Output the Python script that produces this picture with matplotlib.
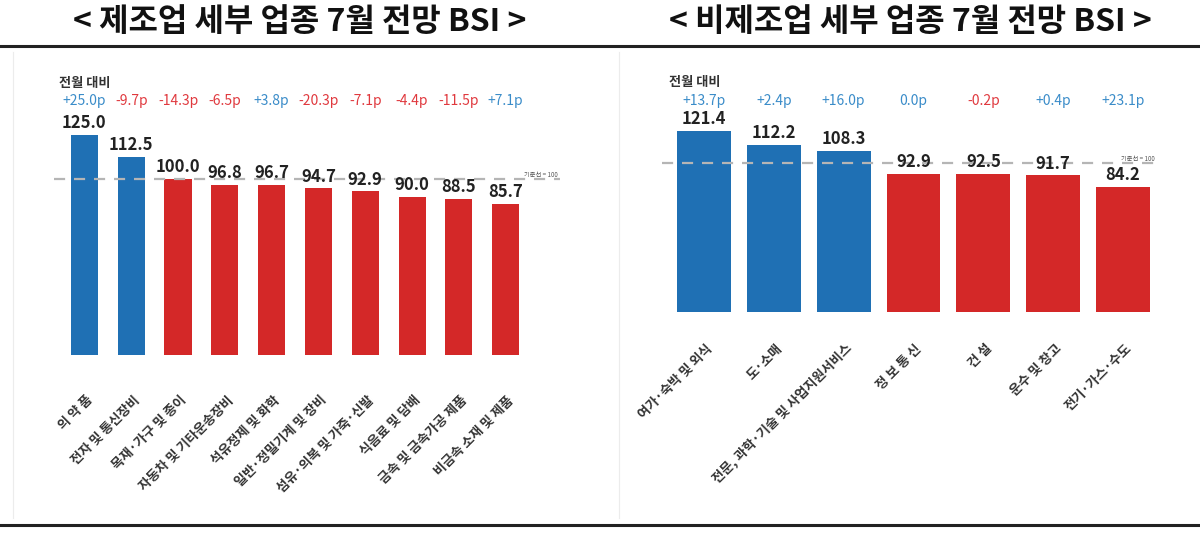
import matplotlib
matplotlib.use("Agg")
from matplotlib import pyplot as plt
from matplotlib.lines import Line2D
from matplotlib.transforms import ScaledTranslation

plt.rcParams['font.family'] = ['Noto Sans CJK KR', 'DejaVu Sans']

## Data ##
mfg_labels = ['의 약 품', '전자 및 통신장비', '목재·가구 및 종이', '자동차 및 기타운송장비',
              '석유정제 및 화학', '일반·정밀기계 및 장비', '섬유·의복 및 가죽·신발',
              '식음료 및 담배', '금속 및 금속가공 제품', '비금속 소재 및 제품']
mfg_values = [125.0, 112.5, 100.0, 96.8, 96.7, 94.7, 92.9, 90.0, 88.5, 85.7]
mfg_change = [25.0, -9.7, -14.3, -6.5, 3.8, -20.3, -7.1, -4.4, -11.5, 7.1]

non_labels = ['여가·숙박 및 외식', '도·소매', '전문, 과학·기술 및 사업지원서비스',
              '정 보 통 신', '건 설', '운수 및 창고', '전기·가스·수도']
non_values = [121.4, 112.2, 108.3, 92.9, 92.5, 91.7, 84.2]
non_change = [13.7, 2.4, 16.0, 0.0, -0.2, 0.4, 23.1]

BLUE = '#1f70b4'
RED = '#d42828'
BLUE_TXT = '#3a8cc9'
RED_TXT = '#e0393e'

W, H = 1200, 535
fig = plt.figure(figsize=(12, 5.35), dpi=100)


def px_axes(left, top, right, bottom):
    return fig.add_axes([left / W, 1 - bottom / H, (right - left) / W, (bottom - top) / H])


# Draws one panel of bars with value and change labels
def plotPanel(ax, labels, values, change, xlim, ylim, pad, width, changeY, headY):
    n = len(values)
    x = list(range(n))
    # only bars above the 100 line are blue
    colors = [BLUE if v > 100 else RED for v in values]
    ax.bar(x, values, width=width, color=colors, zorder=2)
    ax.axhline(100, color='#b5b5b5', lw=1.6, ls=(0, (5, 4)), zorder=3)
    ax.set_xlim(*xlim)
    ax.set_ylim(*ylim)
    for i, v in enumerate(values):
        ax.annotate(f'{v:.1f}', (i, v), xytext=(0, 2), textcoords='offset points',
                    ha='center', va='bottom', fontsize=12, fontweight='bold', color='#222222', zorder=4)
        c = change[i]
        if c > 0:
            txt, col = f'+{c:.1f}p', BLUE_TXT
        elif c < 0:
            txt, col = f'{c:.1f}p', RED_TXT
        else:
            txt, col = f'{c:.1f}p', BLUE_TXT
        ax.text(i, changeY, txt, ha='center', va='center', fontsize=10, color=col)
    ax.text(xlim[0] + 0.1, headY, '전월 대비', ha='left', va='center', fontsize=9.5,
            fontweight='bold', color='#333333')
    ax.text(xlim[1] - 0.05, 100, '기준선 = 100', ha='right', va='bottom', fontsize=4.5, color='#555555')
    ax.set_xticks(x)
    ax.set_xticklabels(labels, rotation=45, ha='right', va='center', rotation_mode='anchor',
                       fontsize=9.5, fontweight='bold', color='#333333')
    ax.tick_params(axis='x', length=0, pad=pad)
    # nudge labels a bit right / up like the original
    shift = ScaledTranslation(6 / 100, 3 / 100, fig.dpi_scale_trans)
    for lab in ax.get_xticklabels():
        lab.set_transform(lab.get_transform() + shift)
    ax.set_yticks([])
    for s in ax.spines.values():
        s.set_visible(False)
    ax.patch.set_alpha(0)


# left panel: bars centred at 84.5 + 46.8*i, baseline y=355
ax1 = px_axes(54, 60, 560, 355)
plotPanel(ax1, mfg_labels, mfg_values, mfg_change, (-0.65, 10.16), (0, 295 / 1.76),
          pad=33, width=0.58, changeY=144.3, headY=154.5)

# right panel: bars centred at 703.5 + 69.9*i, baseline y=312
ax2 = px_axes(662, 60, 1158, 312)
plotPanel(ax2, non_labels, non_values, non_change, (-0.6, 6.5), (0, 252 / 1.49),
          pad=27, width=0.77, changeY=141.6, headY=154.4)

# titles and frame lines
fig.text(300 / W, 1 - 22 / H, '< 제조업 세부 업종 7월 전망 BSI >', ha='center', va='center',
         fontsize=23, fontweight='bold', color='#111111')
fig.text(910 / W, 1 - 22 / H, '< 비제조업 세부 업종 7월 전망 BSI >', ha='center', va='center',
         fontsize=23, fontweight='bold', color='#111111')
fig.add_artist(Line2D([0, 1], [1 - 46 / H] * 2, color='#222222', lw=2.2))
fig.add_artist(Line2D([0, 1], [1 - 525 / H] * 2, color='#222222', lw=2.2))
for xv in [13, 619]:
    fig.add_artist(Line2D([xv / W] * 2, [1 - 52 / H, 1 - 518 / H], color='#ececec', lw=0.8))

plt.savefig('out.png', dpi=100)
plt.close()
